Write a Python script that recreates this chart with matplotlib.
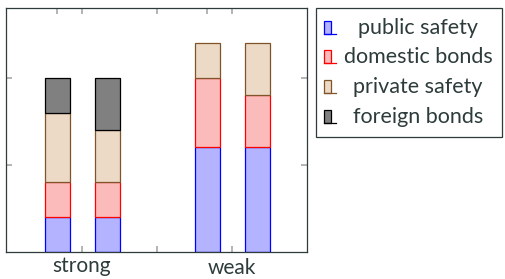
import matplotlib
matplotlib.use("Agg")
import matplotlib.pyplot as plt
from matplotlib.patches import Rectangle
from matplotlib.lines import Line2D
from matplotlib.transforms import ScaledTranslation

# data: four stacked bars, two per group
groups = ["strong", "weak"]
bar_group = [0, 0, 1, 1]
bar_shift = [-1 / 6, 1 / 6, -1 / 6, 1 / 6]
public_safety = [0.4, 0.4, 1.2, 1.2]
domestic_bonds = [0.4, 0.4, 0.8, 0.6]
private_safety = [0.8, 0.6, 0.4, 0.6]
foreign_bonds = [0.4, 0.6, 0.0, 0.0]

series = [
    ("public safety", public_safety, "#b3b3ff", "#0000ff"),
    ("domestic bonds", domestic_bonds, "#fbbbbb", "#ff0000"),
    ("private safety", private_safety, "#ecd9c6", "#80542a"),
    ("foreign bonds", foreign_bonds, "#808080", "#000000"),
]

txt = "#2d3b3b"
plt.rcParams["font.family"] = ["Lato", "DejaVu Sans"]

W, H = 506, 279
fig = plt.figure(figsize=(W / 100, H / 100), dpi=100)
ax = fig.add_axes([6 / W, 1 - 252 / H, 301 / W, 244 / H])

xs = [g + s for g, s in zip(bar_group, bar_shift)]
bottom = [0.0] * len(xs)
for name, vals, fc, ec in series:
    for i in range(len(xs)):
        if vals[i] > 0:
            ax.bar(xs[i], vals[i], width=1 / 6, bottom=bottom[i],
                   facecolor=fc, edgecolor=ec, linewidth=0.9, zorder=2)
        bottom[i] += vals[i]

ax.set_xlim(-0.507, 1.5)
ax.set_ylim(0, 2.8)
ax.set_yticks([1, 2])
ax.set_yticklabels([])
ax.set_xticks([-1 / 6, 0, 0.5, 5 / 6, 1])
ax.set_xticklabels(["", groups[0], "", "", groups[1]], fontsize=15, color=txt)
ax.tick_params(direction="in", length=4, width=1.2, color="#a8a8a8",
               top=True, right=True, pad=3)
# TeX anchors the labels by their box top, so "weak" sits a little lower
lab = ax.get_xticklabels()[4]
lab.set_transform(lab.get_transform() + ScaledTranslation(0, -2 / 100, fig.dpi_scale_trans))
for sp in ax.spines.values():
    sp.set_color(txt)
    sp.set_linewidth(0.9)
ax.set_facecolor("white")

# legend drawn by hand so labels are centred like the original
fig.patches.append(Rectangle((316 / W, 1 - 137 / H), 186 / W, 129 / H,
                             transform=fig.transFigure, fill=False,
                             edgecolor=txt, linewidth=0.9))
row_y = [28, 57, 87, 117]
for (name, vals, fc, ec), ry in zip(series, row_y):
    fig.patches.append(Rectangle((324 / W, 1 - (ry + 6) / H), 7 / W, 13 / H,
                                 transform=fig.transFigure, facecolor=fc,
                                 edgecolor=ec, linewidth=0.9))
    fig.lines.append(Line2D([324 / W, 336 / W], [1 - (ry + 6) / H] * 2,
                            transform=fig.transFigure, color=ec, linewidth=0.9))
    fig.text(418 / W, 1 - ry / H, name, ha="center", va="center",
             fontsize=15.5, color=txt)

fig.savefig("out.png", dpi=100)
